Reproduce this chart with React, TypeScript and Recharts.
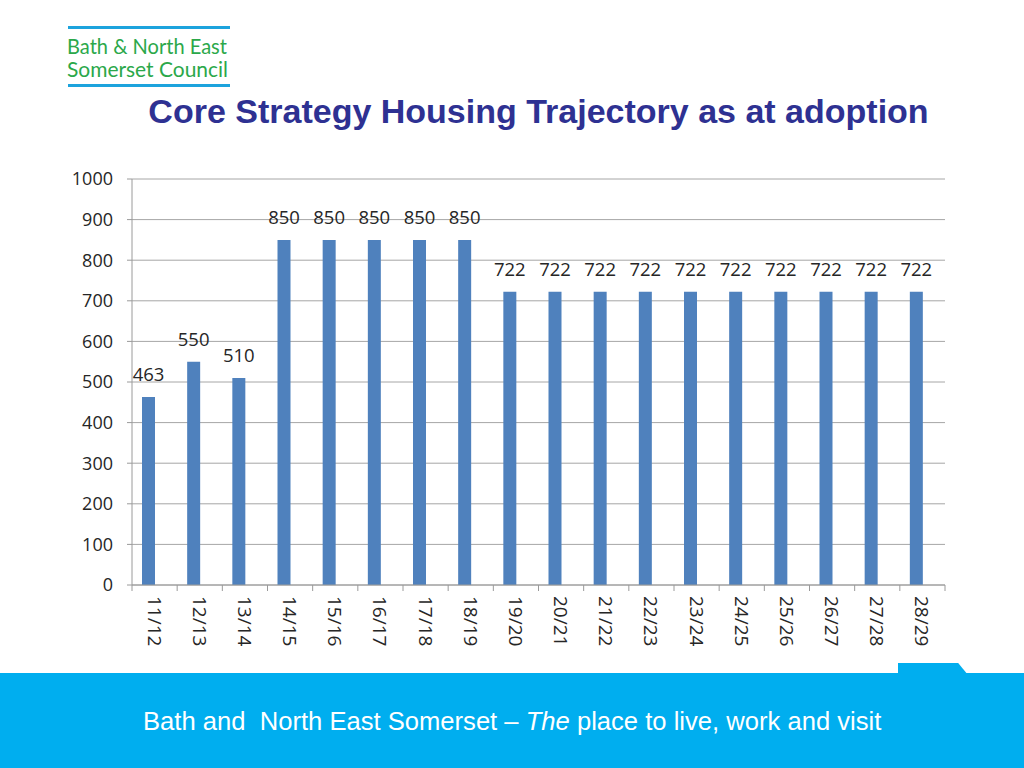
import { BarChart, Bar, XAxis, YAxis, CartesianGrid, LabelList } from "recharts";

const years = [
  "11/12", "12/13", "13/14", "14/15", "15/16", "16/17", "17/18", "18/19", "19/20",
  "20/21", "21/22", "22/23", "23/24", "24/25", "25/26", "26/27", "27/28", "28/29",
];
const homes = [463, 550, 510, 850, 850, 850, 850, 850, 722, 722, 722, 722, 722, 722, 722, 722, 722, 722];
const yTicks = [0, 100, 200, 300, 400, 500, 600, 700, 800, 900, 1000];

const data = years.map((year, i) => ({ year, homes: homes[i] }));

const CHART_W = 900;
const Y_AXIS_W = 72;
const RIGHT = 15;
const band = (CHART_W - Y_AXIS_W - RIGHT) / years.length;
const axisFont = "'Open Sans', Calibri, sans-serif";

const YearTick = (props: any) => {
  const { x, y, payload, index } = props;
  return (
    <g>
      <line x1={x - band / 2} y1={y - 8} x2={x - band / 2} y2={y - 2} stroke="#9a9a9a" />
      {index === years.length - 1 && (
        <line x1={x + band / 2} y1={y - 8} x2={x + band / 2} y2={y - 2} stroke="#9a9a9a" />
      )}
      <text
        x={x}
        y={y + 3}
        transform={`rotate(90 ${x} ${y + 3})`}
        dominantBaseline="central"
        textAnchor="start"
        fontSize={19}
        fontFamily={axisFont}
        fill="#262626"
      >
        {payload.value}
      </text>
    </g>
  );
};

const App = () => {
  return (
    <div
      style={{
        position: "absolute",
        top: 0,
        left: 0,
        width: 1024,
        height: 768,
        background: "#fff",
        overflow: "hidden",
        fontFamily: "Arial, 'Liberation Sans', sans-serif",
      }}
    >
      {/* logo */}
      <div style={{ position: "absolute", left: 68, top: 26, width: 162, height: 3, background: "#1ca3dd" }} />
      <svg width={170} height={50} style={{ position: "absolute", left: 66, top: 33 }}>
        <text x={1} y={21} fontFamily="Lato, 'Open Sans', sans-serif" fontSize={20.5} fill="#2ba84a" textLength={160} lengthAdjust="spacingAndGlyphs">
          Bath &amp; North East
        </text>
        <text x={1} y={44} fontFamily="Lato, 'Open Sans', sans-serif" fontSize={20.5} fill="#2ba84a" textLength={161} lengthAdjust="spacingAndGlyphs">
          Somerset Council
        </text>
      </svg>
      <div style={{ position: "absolute", left: 68, top: 84, width: 162, height: 3, background: "#1ca3dd" }} />

      <div
        style={{
          position: "absolute",
          left: 0,
          width: 1077,
          top: 92,
          textAlign: "center",
          color: "#2e3192",
          fontWeight: "bold",
          fontSize: 34,
        }}
      >
        Core Strategy Housing Trajectory as at adoption
      </div>

      <div style={{ position: "absolute", left: 60, top: 160 }}>
        <BarChart
          width={CHART_W}
          height={500}
          data={data}
          margin={{ top: 19, right: RIGHT, left: 0, bottom: 5 }}
          barCategoryGap={0}
          barGap={0}
        >
          <CartesianGrid vertical={false} stroke="#a6a6a6" />
          <XAxis
            dataKey="year"
            interval={0}
            height={70}
            tickLine={false}
            stroke="#9a9a9a"
            tick={<YearTick />}
          />
          <YAxis
            width={Y_AXIS_W}
            domain={[0, 1000]}
            ticks={yTicks}
            interval={0}
            stroke="#9a9a9a"
            tickSize={5}
            tickMargin={14}
            tick={{ fontSize: 18, fill: "#262626", fontFamily: axisFont }}
          />
          <Bar dataKey="homes" fill="#4f81bd" barSize={13} isAnimationActive={false}>
            <LabelList
              dataKey="homes"
              position="top"
              offset={16}
              fontSize={18.5}
              fill="#262626"
              fontFamily={axisFont}
            />
          </Bar>
          {/* empty second series, as in the source workbook, shifts bars left of centre */}
          <Bar dataKey="spare" fill="none" barSize={13} isAnimationActive={false} />
        </BarChart>
      </div>

      {/* footer band */}
      <div style={{ position: "absolute", left: 0, top: 673, width: 1024, height: 95, background: "#00aeef" }} />
      <div
        style={{
          position: "absolute",
          left: 898,
          top: 663,
          width: 70,
          height: 12,
          background: "#00aeef",
          clipPath: "polygon(0 0, 86% 0, 100% 100%, 0 100%)",
        }}
      />
      <div
        style={{
          position: "absolute",
          left: 143,
          top: 707,
          color: "#fff",
          fontSize: 25.6,
          whiteSpace: "pre",
        }}
      >
        {"Bath and  North East Somerset – "}
        <i>The</i>
        {" place to live, work and visit"}
      </div>
    </div>
  );
};

export default App;
